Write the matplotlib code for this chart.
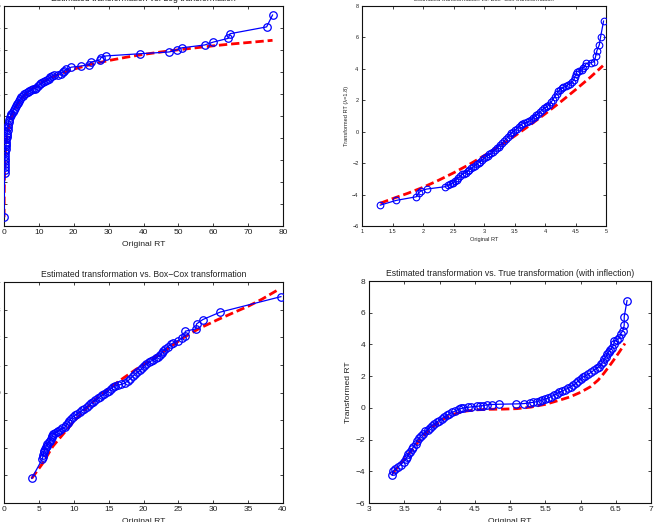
import matplotlib
matplotlib.use("Agg")
import matplotlib.pyplot as plt
from matplotlib.ticker import FuncFormatter

# ---------------- data ----------------
# Panel 1: Estimated vs Log transformation
log_est_x = [0.02, 0.17, 0.19, 0.22, 0.25, 0.28, 0.31, 0.35, 0.39, 0.43, 0.48, 0.53, 0.58, 0.64, 0.70,
             0.77, 0.85, 0.93, 1.02, 1.12, 1.23, 1.35, 1.50, 1.68, 1.90, 2.15, 2.45, 2.75, 3.05, 3.35,
             3.65, 3.95, 4.30, 4.65, 5.00, 5.40, 5.85, 6.30, 6.80, 7.30, 7.80, 8.30, 8.80, 9.30, 9.80,
             10.2, 10.7, 11.2, 11.8, 12.4, 12.9, 13.3, 13.8, 14.2, 15.5, 16.3, 16.8, 17.3, 17.9, 19.3,
             22.0, 24.4, 24.9, 27.5, 27.8, 29.2, 39.0, 47.3, 49.5, 51.0, 57.6, 60.0, 64.3, 64.8, 75.3, 77.0]
log_est_y = [-4.59, -2.60, -2.45, -2.30, -2.18, -2.05, -1.95, -1.82, -1.70, -1.60, -1.48, -1.37, -1.27, -1.16, -1.06,
             -0.96, -0.85, -0.75, -0.64, -0.52, -0.40, -0.28, -0.16, -0.06, 0.03, 0.10, 0.18, 0.27, 0.35, 0.44,
             0.53, 0.61, 0.69, 0.77, 0.85, 0.92, 0.98, 1.04, 1.09, 1.14, 1.18, 1.22, 1.25, 1.28, 1.35,
             1.45, 1.50, 1.53, 1.58, 1.64, 1.70, 1.76, 1.82, 1.86, 1.88, 1.92, 1.99, 2.05, 2.12, 2.22,
             2.27, 2.33, 2.45, 2.55, 2.65, 2.73, 2.83, 2.91, 3.00, 3.10, 3.23, 3.36, 3.53, 3.74, 4.05, 4.59]
log_true_x = [0.02, 0.05, 0.10, 0.20, 0.35, 0.50, 0.75, 1.0, 1.5, 2.0, 3.0, 4.0, 5.0, 6.5, 8.0, 10.0,
              12.5, 15.0, 17.5, 20.0, 25.0, 30.0, 35.0, 40.0, 45.0, 50.0, 55.0, 60.0, 65.0, 70.0, 77.0]
log_true_y = [-4.60, -3.70, -3.02, -2.34, -1.80, -1.45, -1.06, -0.78, -0.39, -0.11, 0.29, 0.57, 0.78, 1.04,
              1.24, 1.45, 1.67, 1.85, 2.00, 2.13, 2.35, 2.52, 2.67, 2.80, 2.91, 3.01, 3.10, 3.19, 3.27, 3.34, 3.44]

# Panel 2: Estimated vs Box-Cox (lambda = 1.8)
bc1_est_x = [1.30, 1.56, 1.89, 1.93, 1.97, 2.06, 2.36, 2.41, 2.44, 2.47, 2.49, 2.52, 2.55, 2.58, 2.61, 2.64,
             2.67, 2.70, 2.73, 2.76, 2.79, 2.82, 2.85, 2.88, 2.91, 2.94, 2.97, 3.00, 3.03, 3.06, 3.09, 3.12,
             3.15, 3.18, 3.21, 3.24, 3.27, 3.30, 3.33, 3.36, 3.39, 3.42, 3.45, 3.48, 3.51, 3.54, 3.57, 3.60,
             3.63, 3.66, 3.70, 3.74, 3.77, 3.80, 3.83, 3.86, 3.89, 3.92, 3.95, 3.98, 4.01, 4.04, 4.07, 4.10,
             4.13, 4.16, 4.19, 4.22, 4.25, 4.28, 4.30, 4.34, 4.37, 4.41, 4.44, 4.47, 4.49, 4.51, 4.52, 4.56,
             4.60, 4.62, 4.65, 4.68, 4.75, 4.81, 4.83, 4.85, 4.89, 4.91, 4.96]
bc1_est_y = [-4.67, -4.37, -4.14, -3.88, -3.75, -3.65, -3.50, -3.40, -3.35, -3.28, -3.25, -3.12, -3.05, -2.92,
             -2.82, -2.72, -2.66, -2.60, -2.53, -2.42, -2.34, -2.27, -2.15, -2.07, -1.98, -1.91, -1.80, -1.70,
             -1.62, -1.52, -1.44, -1.38, -1.27, -1.15, -1.05, -0.95, -0.82, -0.70, -0.58, -0.45, -0.33, -0.22,
             -0.10, 0.00, 0.10, 0.20, 0.32, 0.42, 0.50, 0.55, 0.60, 0.66, 0.75, 0.85, 0.95, 1.05, 1.15, 1.27,
             1.38, 1.48, 1.55, 1.62, 1.73, 1.88, 2.05, 2.22, 2.40, 2.58, 2.68, 2.76, 2.82, 2.88, 2.97, 3.05,
             3.15, 3.30, 3.50, 3.70, 3.82, 3.88, 3.92, 4.05, 4.20, 4.35, 4.40, 4.46, 4.80, 5.15, 5.52, 6.00, 7.04]
bc1_true_x = [1.30, 1.50, 1.75, 2.00, 2.25, 2.50, 2.75, 3.00, 3.25, 3.50, 3.75, 4.00, 4.25, 4.50, 4.75, 4.95]
bc1_true_y = [-4.55, -4.26, -3.92, -3.54, -3.10, -2.62, -2.10, -1.53, -0.92, -0.28, 0.41, 1.13, 1.88, 2.67,
              3.49, 4.20]

# Panel 3: Estimated vs Box-Cox
bc2_est_x = [3.97, 5.49, 5.58, 5.64, 5.70, 5.78, 5.88, 5.97, 6.10, 6.21, 6.40, 6.59, 6.70, 6.83, 6.95, 7.07,
             7.30, 7.55, 7.80, 8.03, 8.35, 8.74, 8.95, 9.13, 9.35, 9.56, 9.85, 10.18, 10.50, 10.89, 11.20,
             11.50, 11.85, 12.15, 12.50, 12.80, 13.10, 13.45, 13.76, 14.10, 14.40, 14.70, 15.00, 15.30, 15.60,
             15.90, 16.30, 16.80, 17.30, 17.80, 18.10, 18.50, 18.80, 19.10, 19.50, 19.80, 20.10, 20.40, 20.80,
             21.10, 21.40, 21.80, 22.10, 22.40, 22.60, 22.80, 23.10, 23.50, 24.00, 24.30, 25.00, 25.50, 25.90,
             26.00, 27.50, 27.60, 28.50, 31.00, 39.70]
bc2_est_y = [-3.11, -2.41, -2.32, -2.25, -2.17, -2.10, -2.03, -1.97, -1.92, -1.88, -1.80, -1.74, -1.68, -1.62,
             -1.56, -1.50, -1.46, -1.43, -1.39, -1.35, -1.30, -1.25, -1.19, -1.12, -1.04, -0.96, -0.89, -0.83,
             -0.77, -0.71, -0.65, -0.59, -0.53, -0.46, -0.39, -0.33, -0.27, -0.21, -0.16, -0.10, -0.04, 0.01,
             0.07, 0.13, 0.19, 0.23, 0.27, 0.29, 0.34, 0.43, 0.50, 0.60, 0.67, 0.73, 0.80, 0.88, 0.96, 1.04,
             1.09, 1.14, 1.18, 1.25, 1.30, 1.34, 1.43, 1.52, 1.58, 1.66, 1.76, 1.80, 1.88, 1.97, 2.06, 2.22,
             2.30, 2.48, 2.64, 2.91, 3.47]
bc2_true_x = [3.97, 5.50, 7.00, 8.50, 10.0, 12.0, 14.0, 16.0, 17.1, 19.0, 21.0, 23.0, 25.7, 28.0, 30.5, 33.0,
              35.0, 37.0, 39.3]
bc2_true_y = [-3.11, -2.58, -1.95, -1.50, -1.05, -0.52, -0.05, 0.32, 0.52, 0.85, 1.17, 1.50, 1.98, 2.32, 2.62,
              2.90, 3.12, 3.38, 3.72]

# Panel 4: Estimated vs True transformation (with inflection)
inf_est_x = [3.33, 3.34, 3.37, 3.41, 3.45, 3.49, 3.52, 3.54, 3.56, 3.58, 3.61, 3.63, 3.66, 3.68, 3.71, 3.74,
             3.77, 3.80, 3.83, 3.86, 3.89, 3.92, 3.96, 3.99, 4.03, 4.06, 4.10, 4.14, 4.18, 4.22, 4.27, 4.31,
             4.34, 4.40, 4.45, 4.53, 4.58, 4.62, 4.67, 4.74, 4.85, 5.09, 5.20, 5.28, 5.33, 5.38, 5.42, 5.46,
             5.50, 5.54, 5.58, 5.62, 5.66, 5.70, 5.74, 5.78, 5.82, 5.86, 5.90, 5.94, 5.97, 6.00, 6.03, 6.07,
             6.11, 6.15, 6.19, 6.23, 6.26, 6.29, 6.32, 6.34, 6.36, 6.38, 6.40, 6.42, 6.45, 6.47, 6.48, 6.52,
             6.55, 6.57, 6.60, 6.62, 6.62, 6.66]
inf_est_y = [-4.25, -4.00, -3.88, -3.73, -3.58, -3.41, -3.25, -3.09, -2.92, -2.76, -2.60, -2.46, -2.25, -2.06,
             -1.90, -1.75, -1.62, -1.48, -1.37, -1.25, -1.12, -1.01, -0.90, -0.80, -0.69, -0.58, -0.48, -0.39,
             -0.29, -0.20, -0.10, -0.04, 0.00, 0.03, 0.06, 0.10, 0.12, 0.14, 0.19, 0.21, 0.23, 0.25, 0.27, 0.32,
             0.35, 0.39, 0.44, 0.50, 0.56, 0.62, 0.70, 0.79, 0.88, 0.98, 1.06, 1.15, 1.23, 1.33, 1.43, 1.58,
             1.71, 1.85, 1.94, 2.02, 2.11, 2.24, 2.37, 2.50, 2.60, 2.74, 2.90, 3.08, 3.22, 3.40, 3.54, 3.65,
             3.80, 4.00, 4.22, 4.30, 4.38, 4.68, 4.86, 5.20, 5.75, 6.76]
inf_true_x = [3.33, 3.45, 3.60, 3.75, 3.90, 4.05, 4.20, 4.35, 4.50, 4.70, 4.90, 5.10, 5.30, 5.50, 5.70, 5.85,
              6.00, 6.14, 6.25, 6.33, 6.40, 6.47, 6.55, 6.63]
inf_true_y = [-4.15, -3.50, -2.70, -1.85, -1.20, -0.72, -0.40, -0.22, -0.13, -0.09, -0.08, -0.05, 0.05, 0.22,
              0.48, 0.69, 0.98, 1.33, 1.75, 2.17, 2.58, 3.01, 3.52, 4.06]

titles = ["Estimated transformation vs. Log transformation",
          "Estimated transformation vs. Box\u2212Cox transformation",
          "Estimated transformation vs. Box\u2212Cox transformation",
          "Estimated transformation vs. True transformation (with inflection)"]

# ---------------- figure ----------------
plt.rcParams['font.family'] = ['Liberation Sans', 'DejaVu Sans']
W, H = 657, 522
fig = plt.figure(figsize=(W / 100, H / 100), dpi=100)


def px_axes(x0, y0, x1, y1):
    return fig.add_axes([x0 / W, 1 - y1 / H, (x1 - x0) / W, (y1 - y0) / H])


fmt = FuncFormatter(lambda v, p: ('%g' % v).replace('-', '\u2212'))


def style(ax, fs, xlim, ylim, xt, yt, title, xlabel, ylabel=None, lpad=3):
    ax.set_xlim(*xlim)
    ax.set_ylim(*ylim)
    ax.set_xticks(xt)
    ax.set_yticks(yt)
    ax.xaxis.set_major_formatter(fmt)
    ax.yaxis.set_major_formatter(fmt)
    ax.tick_params(direction='in', top=True, right=True, length=2.2, width=0.6,
                   labelsize=fs, pad=2.5, colors='#222222')
    for s in ax.spines.values():
        s.set_linewidth(0.8)
        s.set_color('#111111')
    ax.set_title(title, fontsize=fs + 0.2, pad=3.5, color='#222222')
    ax.set_xlabel(xlabel, fontsize=fs + 0.1, labelpad=lpad, color='#222222')
    if ylabel:
        ax.set_ylabel(ylabel, fontsize=fs + 0.1, labelpad=lpad, color='#222222')


def draw(ax, ex, ey, tx, ty, ms=5.4, mew=0.9):
    ax.plot(tx, ty, color='red', lw=2.0, ls='--', dashes=(3, 1.4), zorder=2)
    ax.plot(ex, ey, '-o', color='blue', lw=0.9, ms=ms, mfc='none', mec='blue', mew=mew, zorder=3)


# Top-left
ax1 = px_axes(4, 6, 283, 226)
draw(ax1, log_est_x, log_est_y, log_true_x, log_true_y)
style(ax1, 6.0, (0, 80), (-5, 5), range(0, 81, 10), range(-5, 6), titles[0], "Original RT")

# Top-right
ax2 = px_axes(362, 6, 606, 226)
draw(ax2, bc1_est_x, bc1_est_y, bc1_true_x, bc1_true_y, ms=4.8, mew=0.8)
style(ax2, 4.0, (1, 5), (-6, 8), [1, 1.5, 2, 2.5, 3, 3.5, 4, 4.5, 5], range(-6, 9, 2), titles[1],
      "Original RT", "Transformed RT (\u03bb=1.8)", lpad=2)

# Bottom-left
ax3 = px_axes(4, 282, 283, 503)
draw(ax3, bc2_est_x, bc2_est_y, bc2_true_x, bc2_true_y)
style(ax3, 6.0, (0, 40), (-4, 4), range(0, 41, 5), range(-4, 5), titles[2], "Original RT")

# Bottom-right
ax4 = px_axes(369, 281, 651, 503)
draw(ax4, inf_est_x, inf_est_y, inf_true_x, inf_true_y)
style(ax4, 6.0, (3, 7), (-6, 8), [3, 3.5, 4, 4.5, 5, 5.5, 6, 6.5, 7], range(-6, 9, 2), titles[3],
      "Original RT", "Transformed RT")

fig.savefig("out.png", dpi=100)
